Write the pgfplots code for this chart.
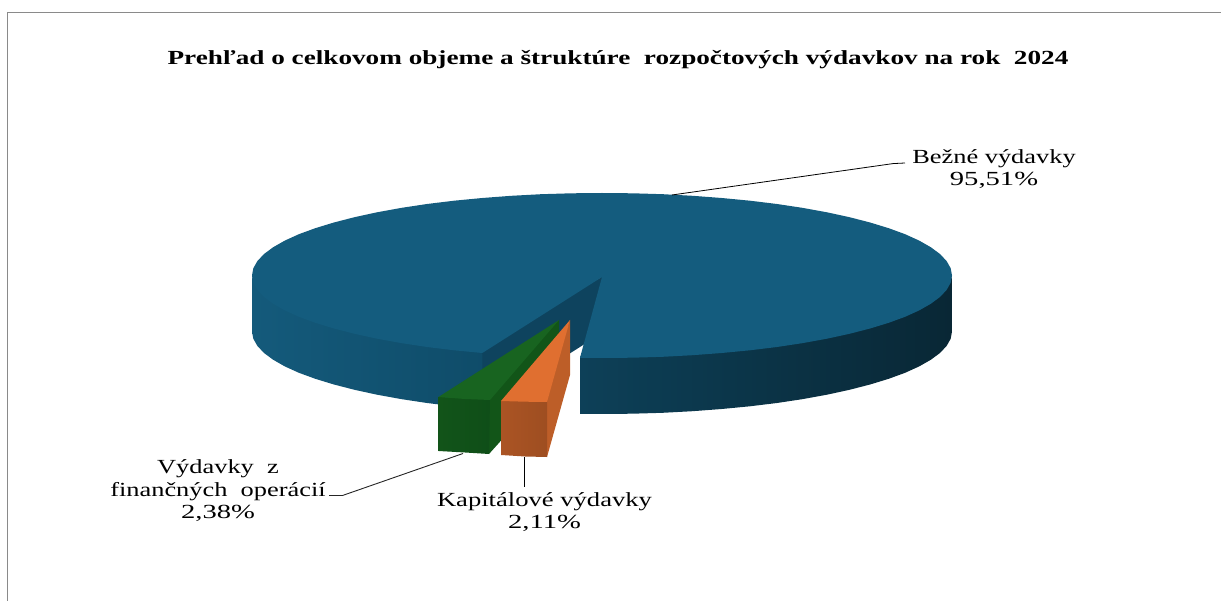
\documentclass[border=0pt]{standalone}
\usepackage{pgfplots}
\pgfplotsset{compat=1.18}
\usepackage{graphicx}
\usepackage{fontspec}
\setmainfont{Liberation Serif}
\definecolor{blueTop}{HTML}{145C7E}
\definecolor{blueWall}{HTML}{0E435E}
\definecolor{blueL1}{HTML}{145A7B}
\definecolor{blueL2}{HTML}{0F4C69}
\definecolor{blueR1}{HTML}{0D4058}
\definecolor{blueR2}{HTML}{092735}
\definecolor{greenTop}{HTML}{186420}
\definecolor{greenWall}{HTML}{125518}
\definecolor{greenF1}{HTML}{125419}
\definecolor{greenF2}{HTML}{0F4E18}
\definecolor{orangeTop}{HTML}{E06F30}
\definecolor{orangeWall}{HTML}{BD5E28}
\definecolor{orangeF1}{HTML}{AB5424}
\definecolor{orangeF2}{HTML}{9E4E21}
\definecolor{frameGray}{HTML}{8A8A8A}
\newcommand{\lbl}[2]{\scalebox{#1}[1]{#2}}
\begin{document}
\begin{tikzpicture}
\begin{axis}[
  scale only axis, width=1221pt, height=601pt,
  xmin=0, xmax=1221, ymin=0, ymax=601, y dir=reverse,
  hide axis, clip=true,
]
% page extent
\addplot[draw=none, forget plot] coordinates {(0,0) (1221,601)};
% frame
\addplot[frameGray, line width=1.3pt] coordinates {(7.5,601) (7.5,12.5) (1221,12.5)};
% left outer wall of the large slice
\addplot[draw=none, shade, shading=axis, left color=blueL1, right color=blueL2] coordinates {
(252.0,275.5)(252.0,331.5)(253.3,338.7)(257.3,345.8)(263.9,352.9)(273.1,359.7)(284.8,366.4)(298.9,372.8)(315.3,378.8)(333.9,384.5)(354.5,389.8)(377.0,394.7)(401.2,399.1)(427.0,403.0)(454.1,406.3)(482.3,409.0)(486,409.3)
(486,351)(482.3,351.0)(454.1,348.3)(427.0,345.0)(401.2,341.1)(377.0,336.7)(354.5,331.8)(333.9,326.5)(315.3,320.8)(298.9,314.8)(284.8,308.4)(273.1,301.7)(263.9,294.9)(257.3,287.8)(253.3,280.7)
} --cycle;
% right outer wall of the large slice
\addplot[draw=none, shade, shading=axis, left color=blueR1, middle color=blueR2, right color=blueR2] coordinates {
(580.0,356.5)(602.0,356.0)(632.5,355.7)(662.8,354.8)(692.6,353.2)(721.7,351.0)(749.9,348.3)(777.0,345.0)(802.8,341.1)(827.0,336.7)(849.5,331.8)(870.1,326.5)(888.7,320.8)(905.1,314.8)(919.2,308.4)(930.9,301.7)(940.1,294.9)(946.7,287.8)(950.7,280.7)(952.0,275.5)
(952.0,331.5)(950.7,338.7)(946.7,345.8)(940.1,352.9)(930.9,359.7)(919.2,366.4)(905.1,372.8)(888.7,378.8)(870.1,384.5)(849.5,389.8)(827.0,394.7)(802.8,399.1)(777.0,403.0)(749.9,406.3)(721.7,409.0)(692.6,411.2)(662.8,412.8)(632.5,413.7)(602.0,414.0)(580.0,413.8)
} --cycle;
% inner wall of the gap
\addplot[draw=none, fill=blueWall] coordinates {(605,275)(475,349)(482.3,353.3)(482.3,409)(602,333)} --cycle;
% top of the large slice (95,51)
\addplot[draw=none, fill=blueTop] coordinates {
(602,277)(580.0,357.8)(602.0,358.0)(632.5,357.7)(662.8,356.8)(692.6,355.2)(721.7,353.0)(749.9,350.3)(777.0,347.0)(802.8,343.1)(827.0,338.7)(849.5,333.8)(870.1,328.5)(888.7,322.8)(905.1,316.8)(919.2,310.4)(930.9,303.7)(940.1,296.9)(946.7,289.8)(950.7,282.7)(952.0,275.5)
(950.7,268.3)(946.7,261.2)(940.1,254.1)(930.9,247.3)(919.2,240.6)(905.1,234.2)(888.7,228.2)(870.1,222.5)(849.5,217.2)(827.0,212.3)(802.8,207.9)(777.0,204.0)(749.9,200.7)(721.7,198.0)(692.6,195.8)(662.8,194.2)(632.5,193.3)(602.0,193.0)
(571.5,193.3)(541.2,194.2)(511.4,195.8)(482.3,198.0)(454.1,200.7)(427.0,204.0)(401.2,207.9)(377.0,212.3)(354.5,217.2)(333.9,222.5)(315.3,228.2)(298.9,234.2)(284.8,240.6)(273.1,247.3)(263.9,254.1)(257.3,261.2)(253.3,268.3)(252.0,275.5)
(253.3,282.7)(257.3,289.8)(263.9,296.9)(273.1,303.7)(284.8,310.4)(298.9,316.8)(315.3,322.8)(333.9,328.5)(354.5,333.8)(377.0,338.7)(401.2,343.1)(427.0,347.0)(454.1,350.3)(482.3,353.0)
} --cycle;
% green slice (2,38)
\addplot[draw=none, fill=greenWall] coordinates {(559,320)(485,400)(485,452)(489,454)(559,376)} --cycle;
\addplot[draw=none, shade, shading=axis, left color=greenF1, right color=greenF2] coordinates {(438.5,397)(465,398)(490,399)(489,454)(465,452.5)(438.5,451)} --cycle;
\addplot[draw=none, fill=greenTop] coordinates {(559,320)(438.5,397)(465,399)(490,400)} --cycle;
% orange slice (2,11)
\addplot[draw=none, fill=orangeWall] coordinates {(570,320)(544,402)(544,456.9)(547,457)(570,375)} --cycle;
\addplot[draw=none, shade, shading=axis, left color=orangeF1, right color=orangeF2] coordinates {(501,401)(525,400.7)(547,401)(547,457)(525,456.5)(501,455)} --cycle;
\addplot[draw=none, fill=orangeTop] coordinates {(570,320)(501,401)(525,401.7)(547,402)} --cycle;
% leader lines
\addplot[black, line width=0.8pt] coordinates {(672,195) (893,163.6) (905,163)};
\addplot[black!85, line width=0.9pt] coordinates {(463,453.5) (342.5,495.5) (329,495.5)};
\addplot[black, line width=1pt] coordinates {(524.5,456.5) (524.5,487)};
% text
\node[anchor=center, font=\fontsize{20}{20}\selectfont\bfseries] at (axis cs:618,60) {\lbl{1.36}{Prehľad o celkovom objeme a štruktúre\ \ rozpočtových výdavkov na rok\ \ 2024}};
\node[anchor=center, align=center, font=\fontsize{20}{22}\selectfont] at (axis cs:994,169) {\lbl{1.32}{Bežné výdavky}\\\lbl{1.43}{95,51\%}};
\node[anchor=center, align=center, font=\fontsize{20}{22.5}\selectfont] at (axis cs:218,491) {\lbl{1.32}{Výdavky\ \ z}\\\lbl{1.32}{finančných\ \ operácií}\\\lbl{1.43}{2,38\%}};
\node[anchor=center, align=center, font=\fontsize{20}{22}\selectfont] at (axis cs:544.5,512) {\lbl{1.33}{Kapitálové výdavky}\\\lbl{1.43}{2,11\%}};
\end{axis}
\end{tikzpicture}
\end{document}
